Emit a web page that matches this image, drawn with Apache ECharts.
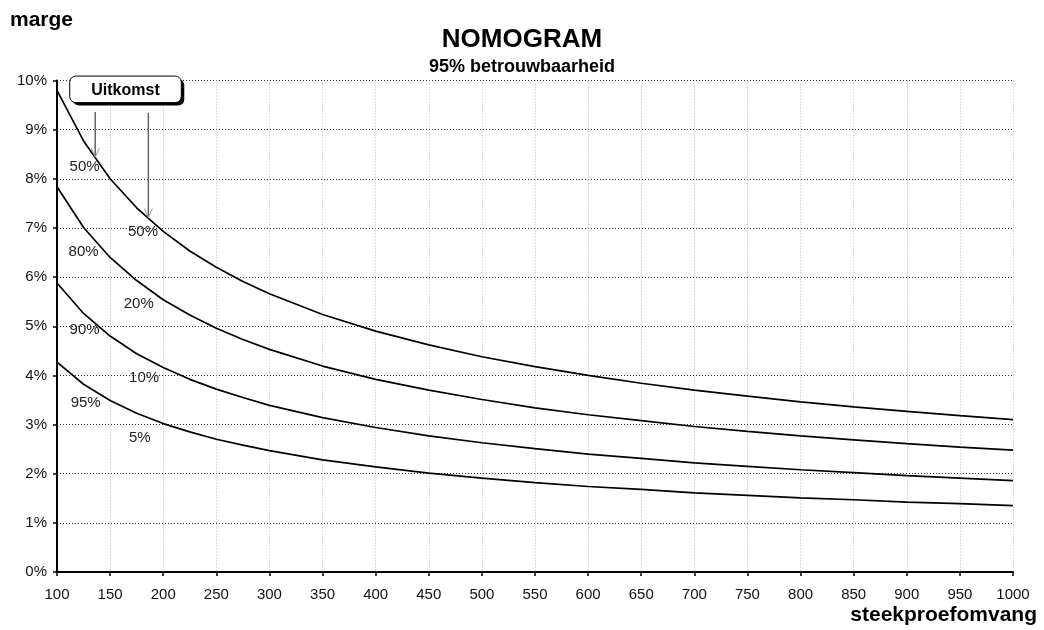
<!DOCTYPE html>
<html><head><meta charset="utf-8">
<script src="https://cdn.jsdelivr.net/npm/echarts@6/dist/echarts.min.js"></script>
<style>html,body{margin:0;padding:0;background:#fff}#c{width:1044px;height:630px}</style>
</head><body><div id="c"></div>
<script>
const sampleSizes = [100,125,150,175,200,225,250,275,300,350,400,450,500,550,600,650,700,750,800,850,900,950,1000];
const marge50 = [9.80,8.77,8.00,7.41,6.93,6.53,6.20,5.91,5.66,5.24,4.90,4.62,4.38,4.18,4.00,3.84,3.70,3.58,3.46,3.36,3.27,3.18,3.10];
const marge20 = [7.84,7.01,6.40,5.93,5.54,5.23,4.96,4.73,4.53,4.19,3.92,3.70,3.51,3.34,3.20,3.08,2.96,2.86,2.77,2.69,2.61,2.54,2.48];
const marge10 = [5.88,5.26,4.80,4.44,4.16,3.92,3.72,3.55,3.39,3.14,2.94,2.77,2.63,2.51,2.40,2.31,2.22,2.15,2.08,2.02,1.96,1.91,1.86];
const marge5  = [4.27,3.82,3.49,3.23,3.02,2.85,2.70,2.58,2.47,2.28,2.14,2.01,1.91,1.82,1.74,1.68,1.61,1.56,1.51,1.47,1.42,1.39,1.35];
const seriesNames = ['50%','20%','10%','5%'];
const curveLabels = [
  {text:'50%', n:126, v:8.25},
  {text:'50%', n:181, v:6.92},
  {text:'80%', n:125, v:6.52},
  {text:'20%', n:177, v:5.46},
  {text:'90%', n:126, v:4.93},
  {text:'10%', n:182, v:3.95},
  {text:'95%', n:127, v:3.44},
  {text:'5%',  n:178, v:2.73}
];
const boxText = 'Uitkomst';
const boxArea = {n0:112, n1:217, v0:10.09, v1:9.55};
const arrows = [{n:136, from:9.36, to:8.44},{n:186, from:9.34, to:7.21}];

const FONT = "'Liberation Sans', Arial, sans-serif";
const chart = echarts.init(document.getElementById('c'), null, {renderer:'canvas'});
const toPairs = arr => sampleSizes.map((n,i)=>[n,arr[i]]);
const allSeries = [marge50, marge20, marge10, marge5].map((arr,i)=>({
  name: seriesNames[i], type:'line', data: toPairs(arr), symbol:'none', smooth:false,
  lineStyle:{color:'#000', width:1.7}, z:3, silent:true
}));

chart.setOption({
  animation:false,
  backgroundColor:'#fff',
  textStyle:{fontFamily:FONT},
  title:[
    {text:'NOMOGRAM', left:'center', top:22, textStyle:{fontSize:26, fontWeight:'bold', color:'#000', fontFamily:FONT}},
    {text:'95% betrouwbaarheid', left:'center', top:53, textStyle:{fontSize:18, fontWeight:'bold', color:'#000', fontFamily:FONT}}
  ],
  grid:{left:57, right:31, top:80.5, bottom:58, containLabel:false},
  xAxis:{type:'value', min:100, max:1000, interval:50,
    axisLine:{show:true, lineStyle:{color:'#000', width:2}},
    axisTick:{show:true, length:4, lineStyle:{color:'#000', width:1.5}},
    axisLabel:{fontSize:15, color:'#111', margin:15, fontFamily:FONT, formatter: v => String(v)},
    splitLine:{show:true, lineStyle:{color:'#b8b8b8', type:[1,2], width:1}}
  },
  yAxis:{type:'value', min:0, max:10, interval:1,
    axisLine:{show:true, lineStyle:{color:'#000', width:2}},
    axisTick:{show:true, length:4, lineStyle:{color:'#000', width:1.5}},
    axisLabel:{fontSize:15, color:'#111', margin:10, formatter:'{value}%', fontFamily:FONT},
    splitLine:{show:true, lineStyle:{color:'#333', type:[1,2], width:1}}
  },
  series: allSeries
});

function px(n,v){ return chart.convertToPixel({gridIndex:0},[n,v]); }
const g = [];
g.push({type:'text', left:10, top:10, style:{text:'marge', font:"bold 21px "+FONT, fill:'#000'}});
g.push({type:'text', right:7, top:605, style:{text:'steekproefomvang', font:"bold 21px "+FONT, fill:'#000'}});
curveLabels.forEach(l=>{
  const p = px(l.n,l.v);
  g.push({type:'text', x:p[0], y:p[1], z:10, style:{text:l.text, font:"15px "+FONT, fill:'#222', align:'center', verticalAlign:'middle'}});
});
const b0 = px(boxArea.n0, boxArea.v0), b1 = px(boxArea.n1, boxArea.v1);
const bw = b1[0]-b0[0], bh = b1[1]-b0[1];
g.push({type:'rect', z:11, shape:{x:b0[0]+3, y:b0[1]+3, width:bw, height:bh, r:6}, style:{fill:'#000'}});
g.push({type:'rect', z:12, shape:{x:b0[0], y:b0[1], width:bw, height:bh, r:6}, style:{fill:'#fff', stroke:'#000', lineWidth:1}});
g.push({type:'text', z:13, x:b0[0]+bw/2, y:b0[1]+bh/2+1, style:{text:boxText, font:"bold 16px "+FONT, fill:'#000', align:'center', verticalAlign:'middle'}});
arrows.forEach(a=>{
  const s = px(a.n,a.from), e = px(a.n,a.to);
  g.push({type:'line', z:9, shape:{x1:s[0], y1:s[1], x2:e[0], y2:e[1]}, style:{stroke:'#666', lineWidth:1.5}});
  g.push({type:'polyline', z:9, shape:{points:[[e[0]-4,e[1]-9],[e[0],e[1]],[e[0]+4,e[1]-9]]}, style:{stroke:'#999', lineWidth:1, fill:null}});
});
chart.setOption({graphic:g});
</script>
</body></html>
